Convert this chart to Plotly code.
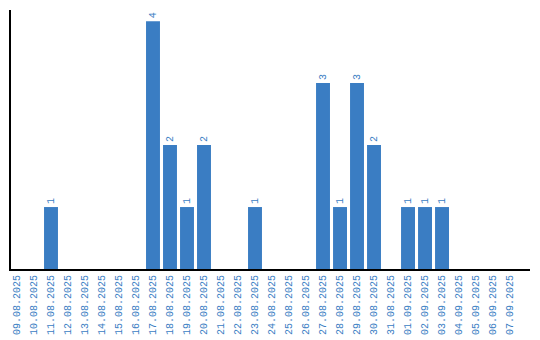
import plotly.graph_objects as go

dates = ["09.08.2025","10.08.2025","11.08.2025","12.08.2025","13.08.2025","14.08.2025","15.08.2025",
         "16.08.2025","17.08.2025","18.08.2025","19.08.2025","20.08.2025","21.08.2025","22.08.2025",
         "23.08.2025","24.08.2025","25.08.2025","26.08.2025","27.08.2025","28.08.2025","29.08.2025",
         "30.08.2025","31.08.2025","01.09.2025","02.09.2025","03.09.2025","04.09.2025","05.09.2025",
         "06.09.2025","07.09.2025"]
values = [0,0,1,0,0,0,0,0,4,2,1,2,0,0,1,0,0,0,3,1,3,2,0,1,1,1,0,0,0,0]

blue = "#3a7dc3"
labels = [str(v) if v else "" for v in values]
mono = "Liberation Mono, DejaVu Sans Mono, monospace"

fig = go.Figure(go.Bar(
    x=list(range(len(dates))), y=values, marker_color=blue, marker_line_width=0,
    width=0.82, text=labels, textposition="outside", textangle=-90,
    textfont=dict(family=mono, size=10, color=blue),
    cliponaxis=False,
))
fig.update_layout(
    width=540, height=340, margin=dict(l=11, r=10, t=10, b=71, autoexpand=False),
    paper_bgcolor="white", plot_bgcolor="white", showlegend=False,
    font=dict(family=mono, size=10, color=blue),
)
fig.update_xaxes(range=[-0.353, 30.176], tickmode="array", tickvals=list(range(len(dates))),
                 ticktext=dates, tickangle=-90, showline=True, linecolor="black", linewidth=2,
                 showgrid=False, ticks="", zeroline=False, automargin=False,
                 tickfont=dict(family=mono, size=10, color=blue))
fig.update_yaxes(range=[0, 4.18], showline=True, linecolor="black", linewidth=2,
                 showgrid=False, showticklabels=False, ticks="", zeroline=False, automargin=False)
fig.write_html("out.html")
